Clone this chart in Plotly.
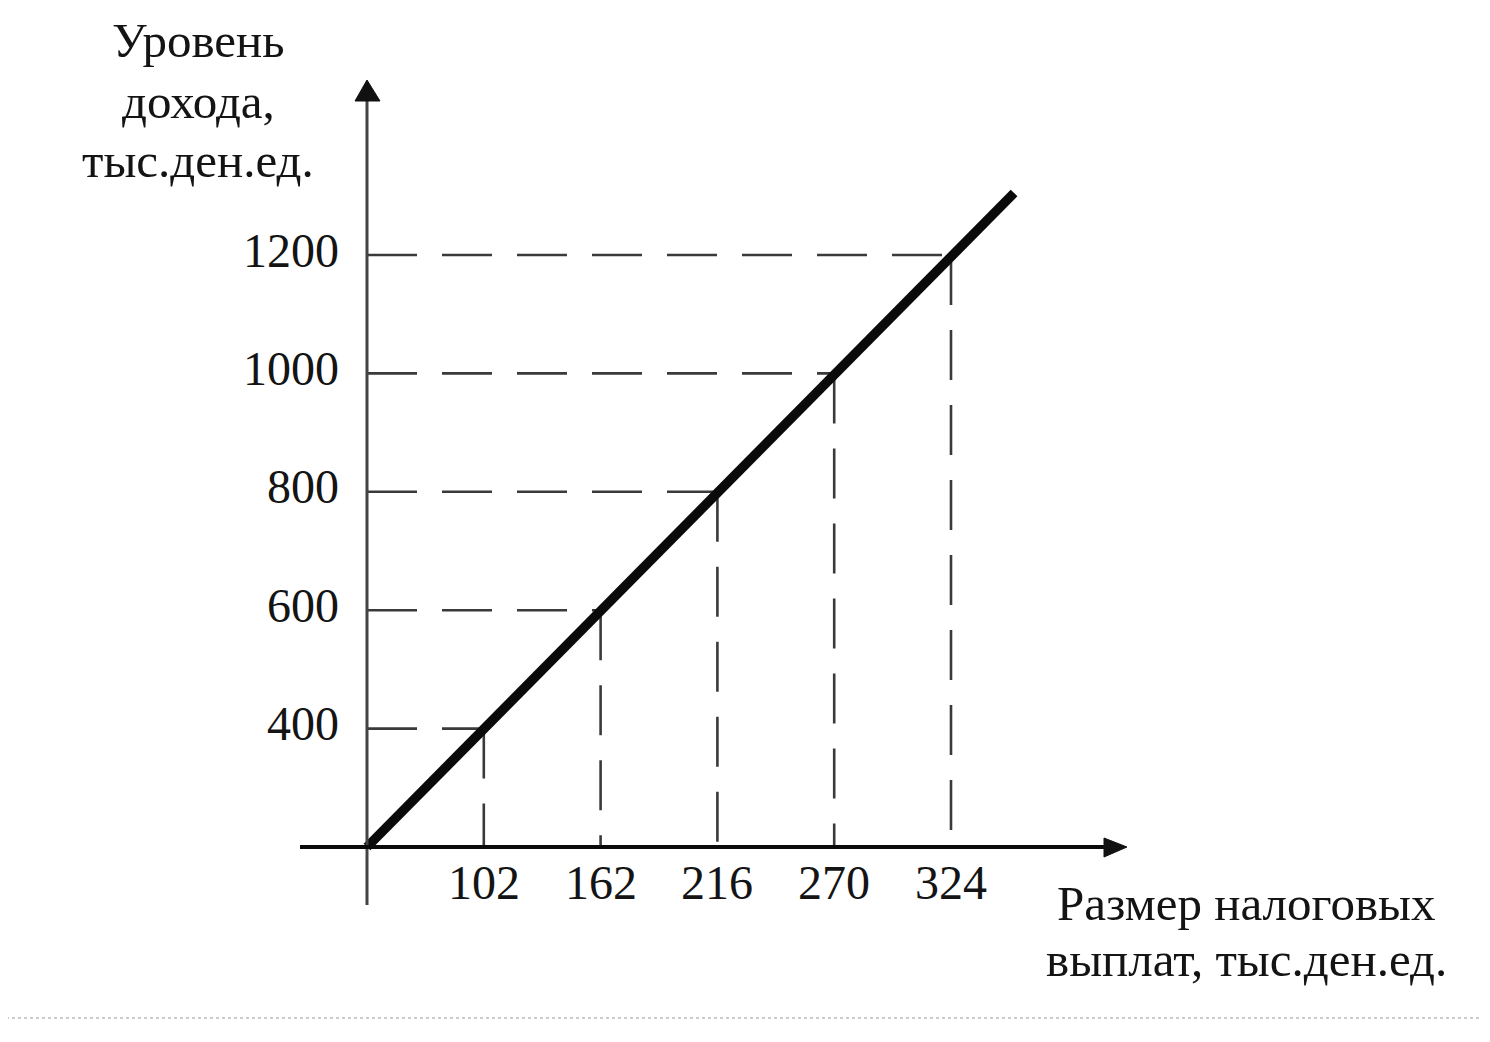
import plotly.graph_objects as go

# ---- data ----
tax_payments = [102, 162, 216, 270, 324]          # x tick labels (тыс.ден.ед.)
income_levels = [400, 600, 800, 1000, 1200]       # y tick labels (тыс.ден.ед.)
x_title_lines = ["Размер налоговых", "выплат, тыс.ден.ед."]
y_title_lines = ["Уровень", "дохода,", "тыс.ден.ед."]

# ---- geometry (schematic, equally spaced positions) ----
W, H = 1490, 1042
OFF = 8                  # page body margin
FW, FH = W - 2 * OFF, H - 2 * OFF
X0, Y0 = 367, 847        # origin in page pixels
SX, SY = 116.8, 118.4    # pixels per step


def px_x(p):
    return (p - X0) / SX


def px_y(p):
    return (Y0 - p) / SY


def paper_x(p):
    return (p - OFF) / FW


def paper_y(p):
    return 1 - (p - OFF) / FH


pos = list(range(1, len(tax_payments) + 1))
ext = 5.54  # how far the line continues beyond the last point

fig = go.Figure()

# dashed guide lines
gx, gy = [], []
for p in pos:
    gx += [0, p, None, p, p, None]
    gy += [p, p, None, p, 0, None]
fig.add_trace(go.Scatter(x=gx, y=gy, mode="lines",
                         line=dict(color="#3a3a3a", width=2.6, dash="50px,25px"),
                         hoverinfo="skip", showlegend=False))

# main line
fig.add_trace(go.Scatter(x=[0] + pos + [ext], y=[0] + pos + [ext * 0.997], mode="lines",
                         line=dict(color="#0a0a0a", width=9.5),
                         hoverinfo="skip", showlegend=False))

shapes = []
# y axis
shapes.append(dict(type="line", xref="x", yref="y", x0=0, x1=0, y0=px_y(905), y1=px_y(98),
                   line=dict(color="#444", width=3)))
shapes.append(dict(type="path", xref="x", yref="y",
                   path=f"M {px_x(355)} {px_y(101)} L {px_x(367)} {px_y(80)} L {px_x(380)} {px_y(101)} Z",
                   fillcolor="#111", line=dict(color="#111", width=1)))
# x axis
shapes.append(dict(type="line", xref="x", yref="y", x0=px_x(300), x1=px_x(1108), y0=0, y1=0,
                   line=dict(color="#0a0a0a", width=4)))
shapes.append(dict(type="path", xref="x", yref="y",
                   path=f"M {px_x(1104)} {px_y(838)} L {px_x(1127)} {px_y(847)} L {px_x(1104)} {px_y(857)} Z",
                   fillcolor="#111", line=dict(color="#111", width=1)))
# bottom dotted rule
shapes.append(dict(type="line", xref="paper", yref="paper", x0=paper_x(0), x1=paper_x(W),
                   y0=paper_y(1018), y1=paper_y(1018),
                   line=dict(color="#999", width=1.2, dash="dot")))

annotations = []
FONT = "Liberation Serif, Times New Roman, serif"
TXT = "#141414"
for p, v in zip(pos, income_levels):
    annotations.append(dict(x=0, y=p, xref="x", yref="y", text=str(v), showarrow=False,
                            xanchor="right", yanchor="middle", xshift=-26, yshift=5,
                            font=dict(family=FONT, size=48, color=TXT)))
for p, v in zip(pos, tax_payments):
    annotations.append(dict(x=p, y=0, xref="x", yref="y", text=str(v), showarrow=False,
                            xanchor="center", yanchor="middle", yshift=-35,
                            font=dict(family=FONT, size=48, color=TXT)))

for txt, cy in zip(y_title_lines, [40, 102, 160]):
    annotations.append(dict(x=paper_x(198), y=paper_y(cy), xref="paper", yref="paper", text=txt,
                            showarrow=False, xanchor="center", yanchor="middle",
                            font=dict(family=FONT, size=49, color=TXT)))
for txt, cy in zip(x_title_lines, [903, 959]):
    annotations.append(dict(x=paper_x(1246), y=paper_y(cy), xref="paper", yref="paper", text=txt,
                            showarrow=False, xanchor="center", yanchor="middle",
                            font=dict(family=FONT, size=49, color=TXT)))

fig.update_layout(
    width=FW, height=FH, autosize=False,
    margin=dict(l=0, r=0, t=0, b=0),
    paper_bgcolor="white", plot_bgcolor="white",
    xaxis=dict(range=[px_x(OFF), px_x(OFF + FW)], visible=False, fixedrange=True),
    yaxis=dict(range=[px_y(OFF + FH), px_y(OFF)], visible=False, fixedrange=True),
    shapes=shapes, annotations=annotations, showlegend=False,
)

fig.write_html("out.html")
